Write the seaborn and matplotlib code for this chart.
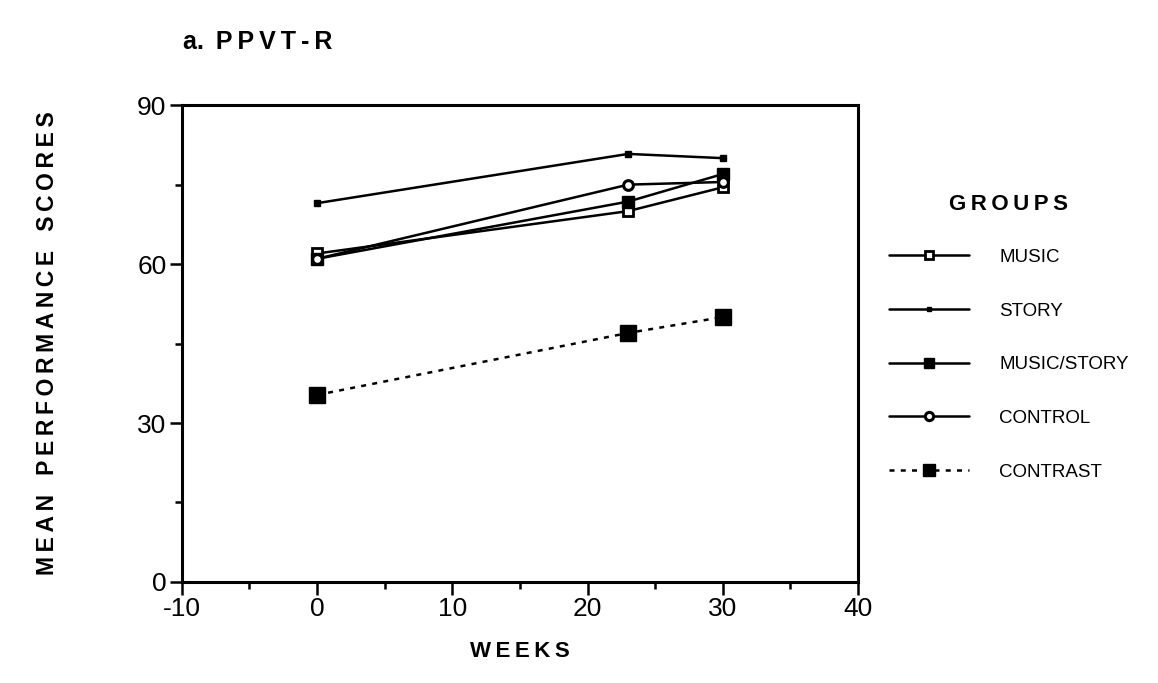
import matplotlib
matplotlib.use("Agg")
import matplotlib.pyplot as plt
from matplotlib.lines import Line2D
from matplotlib.ticker import MultipleLocator
import seaborn as sns
import pandas as pd

weeks = [0, 23, 30]
music = [62, 70, 74.5]
story = [71.5, 80.8, 80]
music_story = [61, 71.8, 77]
control = [61, 75, 75.5]
contrast = [35.3, 47, 50]
groups = ["MUSIC", "STORY", "MUSIC/STORY", "CONTROL", "CONTRAST"]
x_ticks = [-10, 0, 10, 20, 30, 40]
y_ticks = [0, 30, 60, 90]

series = [music, story, music_story, control, contrast]
df = pd.DataFrame({
    "week": weeks * len(groups),
    "score": [v for s in series for v in s],
    "group": [g for g in groups for _ in weeks],
})

sns.set_style("ticks")
plt.rcParams["font.family"] = ["Liberation Sans", "DejaVu Sans"]
plt.rcParams["text.color"] = "black"
plt.rcParams["axes.labelcolor"] = "black"
plt.rcParams["axes.unicode_minus"] = False

fig = plt.figure(figsize=(11.58, 6.83), dpi=100)
ax = fig.add_axes([0.157, 0.148, 0.584, 0.698])

styles = {
    "MUSIC": dict(marker="s", ms=7, mfc="white", mec="black", mew=2, ls="-"),
    "STORY": dict(marker="s", ms=4, mfc="black", mec="black", mew=1, ls="-"),
    "MUSIC/STORY": dict(marker="s", ms=9, mfc="black", mec="black", mew=1, ls="-"),
    "CONTROL": dict(marker="o", ms=7, mfc="white", mec="black", mew=2.2, ls="-"),
    "CONTRAST": dict(marker="s", ms=11, mfc="black", mec="black", mew=1, ls=(0, (2, 2.5))),
}

handles = []
for g in groups:
    st = styles[g]
    sub = df[df["group"] == g]
    sns.lineplot(data=sub, x="week", y="score", ax=ax, color="black", lw=1.8,
                 linestyle=st["ls"], marker=st["marker"], markersize=st["ms"],
                 markerfacecolor=st["mfc"], markeredgecolor=st["mec"],
                 markeredgewidth=st["mew"], legend=False)
    handles.append(Line2D([0], [0], color="black", lw=1.8, linestyle=st["ls"],
                          marker=st["marker"], markersize=st["ms"] * 0.85,
                          markerfacecolor=st["mfc"], markeredgecolor=st["mec"],
                          markeredgewidth=st["mew"]))

ax.set_xlim(-10, 40)
ax.set_ylim(0, 90)
ax.set_xticks(x_ticks)
ax.set_yticks(y_ticks)
ax.xaxis.set_minor_locator(MultipleLocator(5))
ax.yaxis.set_minor_locator(MultipleLocator(15))
ax.tick_params(axis="both", which="major", direction="out", length=9, width=1.8,
               labelsize=19, color="black", labelcolor="black", pad=2)
ax.tick_params(axis="both", which="minor", direction="out", length=5, width=1.8,
               color="black")
for sp in ax.spines.values():
    sp.set_linewidth(2.2)
    sp.set_color("black")
    sp.set_visible(True)

ts = "\u2009"
ax.set_xlabel(ts.join("WEEKS"), fontsize=16, fontweight="bold", labelpad=14)
ylab = "   ".join(ts.join(w) for w in ["MEAN", "PERFORMANCE", "SCORES"])
ax.set_ylabel(ylab, fontsize=16.5, fontweight="bold", labelpad=56)

fig.text(0.158, 0.938, "a." + ts + " " + ts.join("PPVT-R"), fontsize=18,
         fontweight="bold", ha="left", va="center")

leg = fig.legend(handles=handles, labels=groups, loc="upper left",
                 bbox_to_anchor=(0.753, 0.74), frameon=False, fontsize=13.5,
                 handlelength=4.3, handletextpad=1.6, labelspacing=1.95,
                 title=ts.join("GROUPS"), title_fontproperties={"weight": "bold", "size": 16})
leg._legend_box.sep = 24

fig.savefig("out.png", dpi=100, facecolor="white")
